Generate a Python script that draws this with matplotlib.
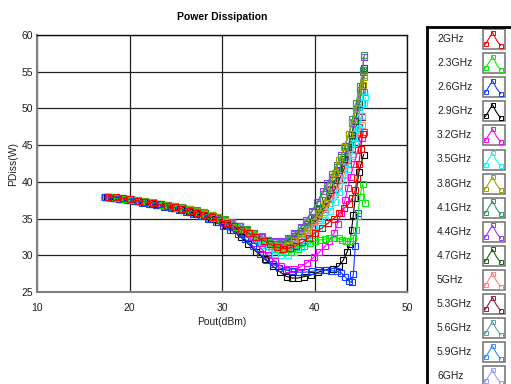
"""
Power dissipation vs output power for a PA swept over frequency (2-6 GHz)
"""

import matplotlib
matplotlib.use("Agg")
import matplotlib.pyplot as plt
from matplotlib.patches import Rectangle

plt.rcParams['font.family'] = ['Liberation Sans', 'DejaVu Sans']

# --- measured sweeps: Pout (dBm) / PDiss (W) per frequency ---
pout_2g = [17.7, 18.5, 19.3, 20.1, 20.9, 21.7, 22.5, 23.3, 24.1, 24.9, 25.7, 26.5, 27.3, 28.1,
           28.9, 29.7, 30.5, 31.3, 32.1, 32.9, 33.7, 34.5, 35.2, 35.9, 36.6, 37.3, 38.0, 38.7,
           39.4, 40.1, 40.8, 41.5, 42.1, 42.7, 43.2, 43.7, 44.1, 44.4, 44.6, 44.8, 45.0, 45.2]
pdiss_2g = [38.0, 37.9, 37.75, 37.6, 37.45, 37.3, 37.1, 36.95, 36.75, 36.55, 36.3, 36.05, 35.8, 35.5,
            35.15, 34.8, 34.4, 33.95, 33.5, 33.0, 32.5, 32.0, 31.5, 31.1, 30.9, 31.0, 31.3, 31.8,
            32.4, 33.1, 33.7, 34.4, 35.0, 35.7, 36.4, 37.0, 37.8, 38.9, 40.5, 42.5, 44.5, 46.5]

pout_2g3 = [17.9, 18.7, 19.5, 20.3, 21.1, 21.9, 22.7, 23.5, 24.3, 25.1, 25.9, 26.7, 27.5, 28.3,
            29.1, 29.9, 30.7, 31.5, 32.3, 33.1, 33.9, 34.7, 35.4, 36.1, 36.8, 37.5, 38.2, 38.9,
            39.5, 40.1, 40.6, 41.1, 41.6, 42.1, 42.6, 43.0, 43.4, 43.8, 44.2, 44.5, 44.7, 44.9,
            45.2, 45.5]
pdiss_2g3 = [37.9, 37.8, 37.7, 37.55, 37.4, 37.25, 37.1, 36.9, 36.7, 36.5, 36.25, 36.0, 35.75, 35.45,
             35.1, 34.75, 34.35, 33.9, 33.45, 32.95, 32.4, 31.85, 31.3, 30.8, 30.4, 30.4, 30.8, 31.3,
             31.7, 31.9, 32.1, 32.2, 32.35, 32.4, 32.3, 32.1, 31.9, 31.9, 32.4, 33.4, 35.4, 38.0,
             39.7, 37.1]

pout_2g6 = [17.3, 18.1, 18.9, 19.7, 20.5, 21.3, 22.1, 22.9, 23.7, 24.5, 25.3, 26.1, 26.9, 27.7,
            28.5, 29.3, 30.1, 30.9, 31.7, 32.5, 33.3, 34.1, 34.8, 35.5, 36.2, 36.9, 37.6, 38.3,
            39.0, 39.7, 40.4, 41.1, 41.8, 42.4, 42.9, 43.3, 43.7, 44.0, 44.2, 44.4, 44.7]
pdiss_2g6 = [37.9, 37.8, 37.65, 37.5, 37.35, 37.15, 36.95, 36.8, 36.6, 36.4, 36.15, 35.9, 35.6, 35.3,
             34.95, 34.55, 34.0, 33.5, 32.9, 32.2, 31.3, 30.2, 29.4, 28.8, 28.3, 28.0, 27.8, 27.7,
             27.7, 27.8, 28.0, 28.0, 27.9, 27.8, 27.6, 27.1, 26.5, 26.3, 27.4, 31.2, 35.7]

pout_2g9 = [17.6, 18.4, 19.2, 20.0, 20.8, 21.6, 22.4, 23.2, 24.0, 24.8, 25.6, 26.4, 27.2, 28.0,
            28.8, 29.6, 30.4, 31.2, 32.0, 32.8, 33.7, 34.6, 35.5, 36.3, 37.0, 37.6, 38.2, 38.9,
            39.6, 40.4, 41.2, 42.0, 42.6, 43.1, 43.5, 43.8, 44.0, 44.2, 44.4, 44.8, 45.3]
pdiss_2g9 = [37.9, 37.8, 37.7, 37.55, 37.4, 37.2, 37.0, 36.85, 36.65, 36.45, 36.2, 35.95, 35.65, 35.35,
             35.0, 34.6, 34.1, 33.4, 32.5, 31.6, 30.5, 29.5, 28.5, 27.7, 27.1, 26.9, 26.9, 27.1,
             27.3, 27.7, 28.0, 28.2, 28.5, 29.3, 30.4, 31.5, 33.4, 35.5, 37.8, 41.3, 43.7]

pout_3g2 = [17.8, 18.6, 19.4, 20.2, 21.0, 21.8, 22.6, 23.4, 24.2, 25.0, 25.8, 26.6, 27.4, 28.2,
            29.0, 29.7, 30.3, 31.1, 31.9, 32.7, 33.5, 34.3, 35.0, 35.7, 36.4, 37.1, 37.8, 38.5,
            39.2, 39.9, 40.5, 41.1, 41.6, 42.1, 42.5, 42.9, 43.3, 43.6, 43.9, 44.3, 44.7, 45.1,
            45.3]
pdiss_3g2 = [37.95, 37.85, 37.7, 37.55, 37.4, 37.25, 37.05, 36.9, 36.7, 36.5, 36.25, 36.0, 35.75, 35.45,
             35.1, 34.75, 34.3, 33.8, 33.2, 32.5, 31.7, 30.8, 30.0, 29.2, 28.5, 28.1, 28.1, 28.4,
             29.0, 29.7, 30.4, 31.2, 32.0, 33.0, 34.3, 35.7, 37.5, 39.2, 40.7, 42.5, 44.3, 46.0,
             46.8]

pout_3g5 = [17.5, 18.3, 19.1, 19.9, 20.7, 21.5, 22.3, 23.1, 23.9, 24.7, 25.5, 26.3, 27.1, 27.9,
            28.7, 29.5, 30.3, 31.1, 31.9, 32.7, 33.5, 34.3, 35.0, 35.7, 36.4, 37.1, 37.8, 38.5,
            39.2, 39.9, 40.5, 41.1, 41.7, 42.2, 42.7, 43.2, 43.6, 44.0, 44.4, 44.8, 45.1, 45.4,
            45.5]
pdiss_3g5 = [37.9, 37.8, 37.7, 37.55, 37.4, 37.25, 37.1, 36.9, 36.7, 36.5, 36.3, 36.05, 35.8, 35.5,
             35.2, 34.85, 34.5, 34.0, 33.5, 32.9, 32.2, 31.4, 30.7, 30.2, 30.0, 30.1, 30.5, 31.1,
             31.9, 32.8, 33.7, 34.8, 36.0, 37.3, 38.6, 40.2, 41.8, 43.5, 45.3, 47.2, 49.0, 50.8,
             51.5]

pout_3g8 = [17.6, 18.4, 19.2, 20.0, 20.8, 21.6, 22.4, 23.2, 24.0, 24.8, 25.6, 26.4, 27.2, 28.0,
            28.8, 29.6, 30.3, 31.1, 31.9, 32.7, 33.5, 34.3, 35.0, 35.7, 36.4, 37.1, 37.8, 38.5,
            39.2, 39.9, 40.5, 41.1, 41.7, 42.2, 42.7, 43.2, 43.7, 44.1, 44.5, 44.9, 45.2, 45.4]
pdiss_3g8 = [37.95, 37.85, 37.75, 37.6, 37.5, 37.35, 37.2, 37.05, 36.9, 36.7, 36.5, 36.3, 36.05, 35.8,
             35.5, 35.15, 34.7, 34.25, 33.75, 33.25, 32.7, 32.1, 31.6, 31.3, 31.2, 31.4, 31.9, 32.6,
             33.5, 34.6, 35.8, 37.1, 39.5, 41.2, 43.0, 44.7, 46.5, 48.2, 50.0, 51.7, 53.2, 54.3]

pout_4g1 = [17.7, 18.5, 19.3, 20.1, 20.9, 21.7, 22.5, 23.3, 24.1, 24.9, 25.7, 26.5, 27.3, 28.1,
            28.9, 29.6, 30.3, 31.1, 31.9, 32.7, 33.5, 34.3, 35.0, 35.7, 36.4, 37.1, 37.8, 38.5,
            39.1, 39.7, 40.3, 40.9, 41.4, 41.9, 42.4, 42.9, 43.3, 43.7, 44.1, 44.5, 44.9, 45.2,
            45.4]
pdiss_4g1 = [37.95, 37.85, 37.75, 37.6, 37.5, 37.35, 37.2, 37.05, 36.9, 36.75, 36.55, 36.35, 36.1, 35.85,
             35.55, 35.25, 34.9, 34.5, 34.05, 33.6, 33.1, 32.6, 32.1, 31.8, 31.8, 32.2, 32.9, 33.7,
             34.6, 35.9, 37.0, 38.4, 39.5, 40.7, 42.0, 43.4, 44.7, 46.5, 48.6, 50.8, 53.0, 55.2,
             57.3]

pout_4g4 = [17.4, 18.2, 19.0, 19.8, 20.6, 21.4, 22.2, 23.0, 23.8, 24.6, 25.4, 26.2, 27.0, 27.8,
            28.6, 29.4, 30.2, 31.0, 31.8, 32.6, 33.4, 34.2, 35.0, 35.7, 36.4, 37.1, 37.8, 38.5,
            39.1, 39.7, 40.3, 40.9, 41.4, 41.9, 42.4, 42.9, 43.3, 43.7, 44.1, 44.5, 44.9, 45.2,
            45.3]
pdiss_4g4 = [37.9, 37.8, 37.7, 37.6, 37.45, 37.3, 37.15, 37.0, 36.85, 36.7, 36.5, 36.3, 36.05, 35.8,
             35.5, 35.2, 34.85, 34.45, 34.0, 33.55, 33.05, 32.55, 32.1, 31.9, 32.0, 32.4, 33.0, 33.8,
             34.8, 36.0, 37.3, 38.7, 39.9, 41.1, 42.3, 43.6, 44.9, 46.5, 48.0, 50.0, 52.5, 55.0,
             57.0]

pout_4g7 = [17.8, 18.6, 19.4, 20.2, 21.0, 21.8, 22.6, 23.4, 24.2, 25.0, 25.8, 26.6, 27.4, 28.2,
            29.0, 29.7, 30.3, 31.1, 31.9, 32.7, 33.5, 34.3, 35.0, 35.7, 36.4, 37.1, 37.8, 38.5,
            39.2, 39.9, 40.5, 41.1, 41.7, 42.2, 42.7, 43.2, 43.6, 44.0, 44.4, 44.8, 45.1, 45.4]
pdiss_4g7 = [37.9, 37.8, 37.7, 37.6, 37.45, 37.3, 37.15, 37.0, 36.8, 36.6, 36.4, 36.2, 35.95, 35.7,
             35.4, 35.1, 34.8, 34.4, 33.95, 33.5, 33.0, 32.5, 32.0, 31.6, 31.6, 32.0, 32.6, 33.3,
             34.2, 35.2, 36.3, 37.5, 38.9, 40.2, 41.6, 43.1, 44.7, 46.4, 48.3, 50.6, 53.0, 55.5]

pout_5g = [17.6, 18.4, 19.2, 20.0, 20.8, 21.6, 22.4, 23.2, 24.0, 24.8, 25.6, 26.4, 27.2, 28.0,
           28.8, 29.6, 30.3, 31.1, 31.9, 32.7, 33.5, 34.3, 35.0, 35.7, 36.4, 37.1, 37.8, 38.5,
           39.2, 39.9, 40.5, 41.1, 41.7, 42.2, 42.7, 43.2, 43.6, 44.0, 44.4, 44.8, 45.1]
pdiss_5g = [37.95, 37.85, 37.7, 37.55, 37.4, 37.25, 37.1, 36.9, 36.7, 36.5, 36.3, 36.05, 35.8, 35.5,
            35.2, 34.85, 34.5, 34.05, 33.55, 33.05, 32.5, 31.95, 31.5, 31.2, 31.0, 31.1, 31.5, 32.1,
            32.9, 33.8, 34.8, 35.9, 37.1, 38.3, 39.6, 41.0, 42.4, 43.8, 45.2, 46.6, 47.8]

pout_5g3 = [17.5, 18.3, 19.1, 19.9, 20.7, 21.5, 22.3, 23.1, 23.9, 24.7, 25.5, 26.3, 27.1, 27.9,
            28.7, 29.5, 30.3, 31.1, 31.9, 32.7, 33.5, 34.3, 35.0, 35.7, 36.4, 37.1, 37.8, 38.5,
            39.2, 39.9, 40.5, 41.1, 41.7, 42.2, 42.7, 43.2, 43.6, 44.0, 44.4, 44.8, 45.1]
pdiss_5g3 = [37.9, 37.8, 37.7, 37.55, 37.4, 37.25, 37.1, 36.95, 36.75, 36.55, 36.35, 36.1, 35.85, 35.55,
             35.25, 34.9, 34.55, 34.1, 33.6, 33.1, 32.6, 32.05, 31.6, 31.3, 31.2, 31.4, 31.9, 32.6,
             33.5, 34.5, 35.5, 36.6, 37.8, 39.0, 40.3, 41.7, 43.0, 44.5, 46.0, 47.5, 48.9]

pout_5g6 = [17.7, 18.5, 19.3, 20.1, 20.9, 21.7, 22.5, 23.3, 24.1, 24.9, 25.7, 26.5, 27.3, 28.1,
            28.9, 29.6, 30.3, 31.1, 31.9, 32.7, 33.5, 34.3, 35.0, 35.7, 36.4, 37.1, 37.8, 38.5,
            39.2, 39.9, 40.5, 41.1, 41.7, 42.2, 42.7, 43.2, 43.6, 44.0, 44.4, 44.8, 45.1, 45.4]
pdiss_5g6 = [37.95, 37.85, 37.75, 37.6, 37.45, 37.3, 37.15, 37.0, 36.85, 36.65, 36.45, 36.25, 36.0, 35.75,
             35.45, 35.15, 34.8, 34.4, 33.95, 33.5, 33.0, 32.5, 32.0, 31.5, 31.5, 31.8, 32.3, 33.0,
             33.9, 34.9, 35.9, 37.1, 38.4, 39.7, 41.1, 42.6, 44.2, 45.9, 47.9, 50.2, 52.5, 54.5]

pout_5g9 = [17.4, 18.2, 19.0, 19.8, 20.6, 21.4, 22.2, 23.0, 23.8, 24.6, 25.4, 26.2, 27.0, 27.8,
            28.6, 29.4, 30.2, 31.0, 31.8, 32.6, 33.4, 34.2, 35.0, 35.7, 36.4, 37.1, 37.8, 38.5,
            39.2, 39.9, 40.5, 41.1, 41.7, 42.2, 42.7, 43.2, 43.6, 44.0, 44.4, 44.8, 45.1, 45.4]
pdiss_5g9 = [37.9, 37.8, 37.7, 37.55, 37.4, 37.2, 37.05, 36.85, 36.65, 36.45, 36.25, 36.0, 35.75, 35.45,
             35.1, 34.75, 34.35, 33.9, 33.4, 32.9, 32.35, 31.8, 31.3, 30.9, 30.7, 30.9, 31.4, 32.1,
             33.0, 34.0, 35.1, 36.3, 37.6, 38.9, 40.3, 41.9, 43.5, 45.2, 47.0, 49.0, 50.8, 52.3]

pout_6g = [17.2, 18.0, 18.8, 19.6, 20.4, 21.2, 22.0, 22.8, 23.6, 24.4, 25.2, 26.0, 26.8, 27.6,
           28.4, 29.2, 30.0, 30.8, 31.6, 32.4, 33.2, 34.0, 34.9, 35.7, 36.4, 37.1, 37.8, 38.5,
           39.2, 39.9, 40.5, 41.1, 41.7, 42.2, 42.7, 43.2, 43.6, 44.0, 44.4, 44.8, 45.1]
pdiss_6g = [37.9, 37.85, 37.75, 37.6, 37.5, 37.35, 37.2, 37.05, 36.9, 36.7, 36.5, 36.3, 36.1, 35.85,
            35.55, 35.25, 34.9, 34.5, 34.05, 33.6, 33.1, 32.55, 32.0, 31.5, 31.4, 31.7, 32.2, 32.9,
            33.8, 34.8, 35.9, 37.1, 38.4, 39.8, 41.3, 42.9, 44.6, 46.4, 48.4, 50.5, 52.2]

labels = ['2GHz', '2.3GHz', '2.6GHz', '2.9GHz', '3.2GHz', '3.5GHz', '3.8GHz', '4.1GHz',
          '4.4GHz', '4.7GHz', '5GHz', '5.3GHz', '5.6GHz', '5.9GHz', '6GHz']
colors = ['#ff0000', '#00ee00', '#1040ff', '#000000', '#ff00ff', '#00ffff', '#a0a000', '#2e9a5a',
          '#9933ff', '#1a5e1a', '#ff8080', '#99143c', '#5f9f9f', '#2f8fff', '#9a9aff']
pouts = [pout_2g, pout_2g3, pout_2g6, pout_2g9, pout_3g2, pout_3g5, pout_3g8, pout_4g1,
         pout_4g4, pout_4g7, pout_5g, pout_5g3, pout_5g6, pout_5g9, pout_6g]
pdiss = [pdiss_2g, pdiss_2g3, pdiss_2g6, pdiss_2g9, pdiss_3g2, pdiss_3g5, pdiss_3g8, pdiss_4g1,
         pdiss_4g4, pdiss_4g7, pdiss_5g, pdiss_5g3, pdiss_5g6, pdiss_5g9, pdiss_6g]

W, H = 511, 384
fig = plt.figure(figsize=(W / 100, H / 100), dpi=100)

# plot area in pixels: x 37..407, y 35..292
ax = fig.add_axes([37 / W, 1 - 292 / H, 370 / W, 257 / H])
ax.set_xlim(10, 50)
ax.set_ylim(25, 60)
ax.set_xticks([10, 20, 30, 40, 50])
ax.set_yticks([25, 30, 35, 40, 45, 50, 55, 60])
ax.tick_params(length=0, labelsize=7.5, colors='#202020')
ax.tick_params(axis='x', pad=8)
ax.tick_params(axis='y', pad=3)
ax.grid(True, color='#202020', linewidth=0.9)
ax.set_axisbelow(True)
for side in ['left', 'bottom']:
    ax.spines[side].set_color('#808080')
    ax.spines[side].set_linewidth(1.5)
for side in ['top', 'right']:
    ax.spines[side].set_color('#101010')
    ax.spines[side].set_linewidth(1.0)

# draw from 6GHz down so the low bands end up on top
for i in reversed(range(len(labels))):
    ax.plot(pouts[i], pdiss[i], color=colors[i], linewidth=0.8, marker='s',
            markersize=3.8, markerfacecolor='none', markeredgewidth=0.8)

ax.set_title('Power Dissipation', fontsize=7.5, fontweight='bold', pad=11)
ax.set_xlabel('Pout(dBm)', fontsize=7.5, color='#202020', labelpad=3)
ax.set_ylabel('PDiss(W)', fontsize=7.5, color='#202020', labelpad=2)

# legend panel on the right edge
leg = fig.add_axes([427 / W, 0, (W - 427) / W, (H - 27) / H])
leg.set_xlim(0, W - 427)
leg.set_ylim(H - 27, 0)
leg.set_xticks([])
leg.set_yticks([])
leg.spines['right'].set_visible(False)
leg.spines['bottom'].set_visible(False)
leg.spines['left'].set_linewidth(2)
leg.spines['top'].set_linewidth(2)

for i, (lab, col) in enumerate(zip(labels, colors)):
    yc = 12 + i * 24.1
    leg.text(10, yc, lab, fontsize=7.5, va='center', ha='left', color='#202020')
    leg.add_patch(Rectangle((56, yc - 10), 22, 20, facecolor='white',
                            edgecolor='#7a7a7a', linewidth=1.2))
    leg.plot([58.5, 65.5, 69.5, 73.5], [yc + 5, yc - 6.5, yc + 1, yc + 6.5],
             color=col, linewidth=0.8)
    leg.plot([58.5, 65.5, 73.5], [yc + 5, yc - 6.5, yc + 6.5], linestyle='none', marker='s',
             markersize=3, markerfacecolor='none', markeredgecolor=col, markeredgewidth=0.7)

fig.savefig('out.png', dpi=100)
